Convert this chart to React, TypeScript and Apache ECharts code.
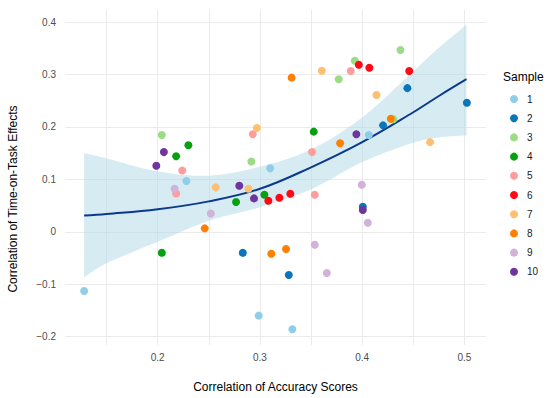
import React, { useEffect, useRef } from 'react';
import * as echarts from 'echarts';

const FONT = '"Liberation Sans", Arial, Helvetica, sans-serif';

// Categories and colours
const samples = ['1', '2', '3', '4', '5', '6', '7', '8', '9', '10'];
const sampleColors = ['#8FCDE8', '#0A75BA', '#9ADD84', '#06A012', '#FF9D9D', '#FF0A14', '#FFBF70', '#FF7F00', '#D0B2DA', '#6F349E'];

// Points per sample: [accuracy correlation, time-on-task correlation]
const sample1 = [[0.128, -0.113], [0.228, 0.097], [0.31, 0.121], [0.4065, 0.1845], [0.2988, -0.16], [0.3317, -0.186]];
const sample2 = [[0.4442, 0.274], [0.5024, 0.246], [0.4204, 0.203], [0.4006, 0.0477], [0.2832, -0.04], [0.3282, -0.0826]];
const sample3 = [[0.204, 0.1845], [0.3928, 0.3263], [0.377, 0.291], [0.2916, 0.134], [0.4374, 0.3468], [0.4305, 0.2145]];
const sample4 = [[0.23, 0.165], [0.218, 0.144], [0.204, -0.04], [0.3526, 0.191], [0.3043, 0.0706], [0.2766, 0.0567]];
const sample5 = [[0.224, 0.117], [0.218, 0.073], [0.3888, 0.3067], [0.293, 0.186], [0.351, 0.152], [0.3536, 0.0706]];
const sample6 = [[0.3967, 0.3187], [0.407, 0.313], [0.446, 0.3067], [0.3082, 0.0592], [0.319, 0.0649], [0.3297, 0.0725]];
const sample7 = [[0.3605, 0.307], [0.414, 0.261], [0.297, 0.198], [0.2567, 0.0847], [0.2887, 0.082], [0.4664, 0.171]];
const sample8 = [[0.331, 0.294], [0.3784, 0.169], [0.428, 0.2156], [0.246, 0.0065], [0.3111, -0.042], [0.3255, -0.033]];
const sample9 = [[0.2166, 0.082], [0.2519, 0.035], [0.3996, 0.0897], [0.4055, 0.0172], [0.3536, -0.0248], [0.3654, -0.0788]];
const sample10 = [[0.206, 0.152], [0.1986, 0.126], [0.3943, 0.186], [0.2798, 0.0878], [0.2942, 0.0637], [0.4006, 0.0414]];
const sampleData = [sample1, sample2, sample3, sample4, sample5, sample6, sample7, sample8, sample9, sample10];

// Smoothed fit and its confidence band
const fitX = [0.128, 0.15, 0.2, 0.25, 0.3, 0.35, 0.4, 0.45, 0.475, 0.502];
const fitY = [0.031, 0.034, 0.043, 0.058, 0.082, 0.123, 0.171, 0.228, 0.259, 0.291];
const fitUpper = [0.15, 0.14, 0.115, 0.107, 0.124, 0.157, 0.218, 0.306, 0.351, 0.395];
const fitLower = [-0.087, -0.06, -0.019, 0.021, 0.047, 0.081, 0.133, 0.17, 0.18, 0.184];

// Axis ticks
const xTickValues = [0.2, 0.3, 0.4, 0.5];
const xMinorValues = [0.15, 0.25, 0.35, 0.45];
const yTickValues = [-0.2, -0.1, 0, 0.1, 0.2, 0.3, 0.4];

const X_MIN = 0.1093;
const X_MAX = 0.5211;
const Y_MIN = -0.216;
const Y_MAX = 0.424;

const fmt = (v: number) => {
  const r = Math.round(v * 10) / 10;
  if (Math.abs(v - r) > 1e-6) return '';
  if (r === 0) return '0';
  return r < 0 ? '\u2212' + Math.abs(r).toFixed(1) : r.toFixed(1);
};

// Catmull-Rom rendering of a pixel polyline (drawing detail only)
function spline(pts: number[][], steps = 10): number[][] {
  const out: number[][] = [];
  const n = pts.length;
  for (let i = 0; i < n - 1; i++) {
    const p0 = pts[Math.max(0, i - 1)];
    const p1 = pts[i];
    const p2 = pts[i + 1];
    const p3 = pts[Math.min(n - 1, i + 2)];
    for (let s = 0; s < steps; s++) {
      const t = s / steps;
      const t2 = t * t;
      const t3 = t2 * t;
      const f = (a: number, b: number, c: number, d: number) =>
        0.5 * (2 * b + (-a + c) * t + (2 * a - 5 * b + 4 * c - d) * t2 + (-a + 3 * b - 3 * c + d) * t3);
      out.push([f(p0[0], p1[0], p2[0], p3[0]), f(p0[1], p1[1], p2[1], p3[1])]);
    }
  }
  out.push(pts[n - 1]);
  return out;
}

function buildOption(): any {
  const grid = '#ebebeb';
  const scatterSeries = samples.map((name, i) => ({
    type: 'scatter',
    name,
    data: sampleData[i],
    symbol: 'circle',
    symbolSize: 8,
    itemStyle: { color: sampleColors[i], opacity: 1 },
    emphasis: { disabled: true },
    z: 5,
  }));
  return {
    animation: false,
    backgroundColor: '#ffffff',
    textStyle: { fontFamily: FONT },
    title: {
      text: 'Sample',
      left: 503,
      top: 71,
      padding: 0,
      textStyle: { fontSize: 12, fontWeight: 'normal', color: '#000', fontFamily: FONT },
    },
    legend: {
      orient: 'vertical',
      left: 510,
      top: 94,
      padding: 0,
      itemWidth: 8,
      itemHeight: 8,
      itemGap: 9.2,
      icon: 'circle',
      data: samples,
      selectedMode: false,
      textStyle: { fontSize: 10, color: '#1a1a1a', fontFamily: FONT, padding: [0, 0, 0, 4] },
    },
    graphic: [
      {
        type: 'text',
        x: 13,
        y: 199,
        rotation: Math.PI / 2,
        silent: true,
        style: {
          text: 'Correlation of Time-on-Task Effects',
          fontSize: 12,
          fontFamily: FONT,
          fill: '#000',
          align: 'center',
          verticalAlign: 'middle',
        },
      },
    ],
    grid: { left: 65, right: 64, top: 9.5, bottom: 53, containLabel: false, outerBoundsMode: 'none' },
    xAxis: {
      type: 'value',
      min: X_MIN,
      max: X_MAX,
      name: 'Correlation of Accuracy Scores',
      nameLocation: 'middle',
      nameGap: 36,
      nameTextStyle: { fontSize: 12, color: '#000', fontFamily: FONT },
      axisLine: { show: false },
      axisTick: { show: false },
      splitLine: { show: false },
      axisLabel: {
        customValues: xTickValues,
        formatter: fmt,
        fontSize: 10,
        color: '#4d4d4d',
        margin: 7,
        fontFamily: FONT,
      },
    },
    yAxis: {
      type: 'value',
      min: Y_MIN,
      max: Y_MAX,
      axisLine: { show: false },
      axisTick: { show: false },
      splitLine: { show: false },
      axisLabel: {
        customValues: yTickValues,
        formatter: fmt,
        fontSize: 10,
        color: '#4d4d4d',
        margin: 9,
        fontFamily: FONT,
      },
    },
    series: [
      {
        type: 'custom',
        name: 'band',
        data: [[fitX[0], fitLower[0]]],
        silent: true,
        z: 2,
        renderItem: (_params: any, api: any) => {
          const up = fitX.map((x, i) => api.coord([x, fitUpper[i]]));
          const lo = fitX.map((x, i) => api.coord([x, fitLower[i]]));
          const pts = [...spline(up), ...spline(lo).reverse()];
          return {
            type: 'polygon',
            shape: { points: pts },
            style: { fill: 'rgba(173,216,230,0.5)', stroke: 'none' },
            silent: true,
          };
        },
        markLine: {
          silent: true,
          symbol: ['none', 'none'],
          label: { show: false },
          lineStyle: { color: grid, width: 1, type: 'solid' },
          emphasis: { disabled: true },
          animation: false,
          z: 0,
          data: [
            ...xTickValues.map((v) => ({ xAxis: v })),
            ...xMinorValues.map((v) => ({ xAxis: v })),
            ...yTickValues.map((v) => ({ yAxis: v })),
          ],
        },
      },
      {
        type: 'line',
        name: 'fit',
        data: fitX.map((x, i) => [x, fitY[i]]),
        symbol: 'none',
        smooth: 0.4,
        lineStyle: { color: '#0b3a8c', width: 2 },
        silent: true,
        z: 3,
      },
      ...scatterSeries,
    ],
  };
}

export default function App() {
  const ref = useRef<HTMLDivElement>(null);
  useEffect(() => {
    if (!ref.current) return;
    const chart = echarts.init(ref.current, null, { renderer: 'svg' });
    chart.setOption(buildOption());
    return () => chart.dispose();
  }, []);
  return (
    <div
      ref={ref}
      style={{ position: 'fixed', left: 0, top: 0, width: 550, height: 398, background: '#fff' }}
    />
  );
}
